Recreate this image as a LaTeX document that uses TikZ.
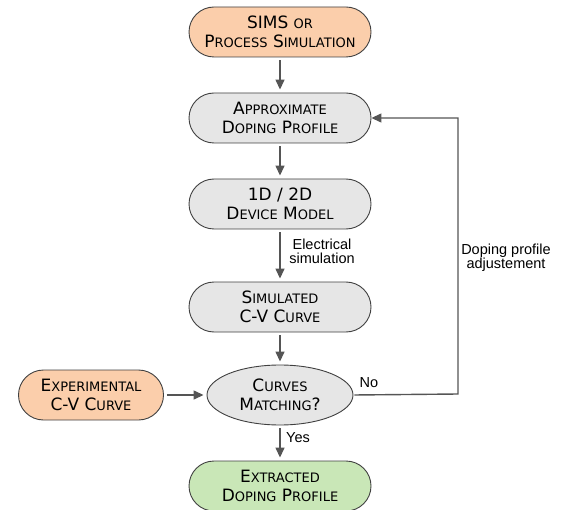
\documentclass[tikz,border=0pt]{standalone}
\usepackage{fontspec}
\setmainfont{DejaVu Sans}
\newfontfamily\lblfont{Liberation Sans}
\usetikzlibrary{arrows.meta,shapes.geometric}
\definecolor{peach}{HTML}{FBCEAB}
\definecolor{lgrey}{HTML}{E6E6E6}
\definecolor{lgreen}{HTML}{C9E7B7}
\definecolor{bord}{HTML}{404040}
\definecolor{arrc}{HTML}{555555}
\newcommand\Bg{\fontsize{17}{19}\selectfont}
\newcommand\Sm[1]{{\fontsize{13}{19}\selectfont #1}}
\tikzset{
  box/.style={draw=bord, line width=0.9pt, rounded corners=25pt,
    minimum width=182pt, minimum height=50pt, inner sep=0pt,
    align=center, font=\Bg, text=black},
  decis/.style={draw=bord, line width=0.9pt, ellipse,
    minimum width=146pt, minimum height=60pt, inner sep=0pt,
    align=center, font=\Bg, text=black, fill=lgrey},
  arr/.style={draw=arrc, line width=1.4pt,
    -{Triangle[length=10pt,width=9pt]}, shorten >=3pt, shorten <=3pt},
  lbl/.style={font=\lblfont\fontsize{14.5}{14}\selectfont, align=center,
    inner sep=0pt, text=black}
}
\begin{document}
\begin{tikzpicture}[x=1pt,y=-1pt]
\path[use as bounding box] (0,0) rectangle (561,510);

\node[box, fill=peach] (sims) at (280,32) {SIMS \Sm{OR}\\P\Sm{ROCESS} S\Sm{IMULATION}};
\node[box, fill=lgrey] (approx) at (280,118) {A\Sm{PPROXIMATE}\\D\Sm{OPING} P\Sm{ROFILE}};
\node[box, fill=lgrey] (model) at (280,204) {1D / 2D\\D\Sm{EVICE} M\Sm{ODEL}};
\node[box, fill=lgrey] (sim) at (280,307) {S\Sm{IMULATED}\\C-V C\Sm{URVE}};
\node[decis] (match) at (280,395) {C\Sm{URVES}\\M\Sm{ATCHING}?};
\node[box, fill=peach, minimum width=145pt] (exp) at (91,395) {E\Sm{XPERIMENTAL}\\C-V C\Sm{URVE}};
\node[box, fill=lgreen] (extr) at (280,486) {E\Sm{XTRACTED}\\D\Sm{OPING} P\Sm{ROFILE}};

\node[lbl] (elec) at (322,251) {Electrical\\simulation};
\node[lbl] (adj) at (506,258) {Doping profile\\adjustement};
\node[lbl] (no) at (369,383) {No};
\node[lbl] (yes) at (298,438) {Yes};

\coordinate (corner) at (458,394);

\draw[arr] (sims) -- (approx);
\draw[arr] (approx) -- (model);
\draw[arr] (model) -- (sim);
\draw[arr] (sim) -- (match);
\draw[arr] (match) -- (extr);
\draw[arr] (exp) -- (match);
\draw[arr, shorten <=1pt, shorten >=0pt] (match.east) -- (corner) |- (approx.east);
\end{tikzpicture}
\end{document}
